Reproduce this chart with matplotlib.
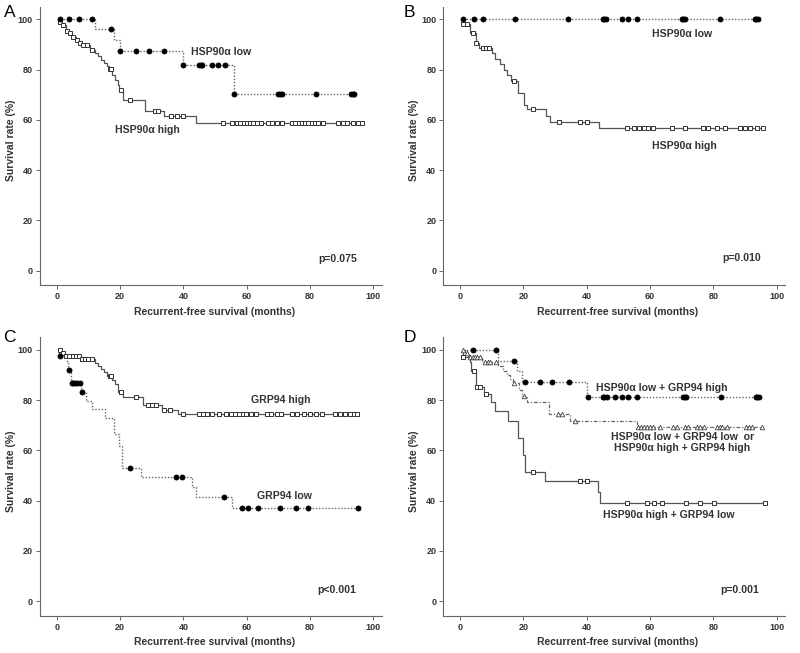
import numpy as np
import matplotlib
matplotlib.use("Agg")
import matplotlib.pyplot as plt

plt.rcParams["font.family"] = ["Liberation Sans", "DejaVu Sans"]

# ---- data ----
# each curve: start time, event times, survival (%) after each event, censor times
a_low_start = 1
a_low_t = [12, 18, 20, 40, 56]
a_low_s = [96.0, 91.7, 87.5, 81.8, 70.2]
a_low_cens = [1, 4, 7, 11, 17, 20, 25, 29, 34, 40, 45, 45.5, 46, 49, 51, 53,
              56, 70, 70.5, 71, 82, 93, 93.5, 94]

a_high_start = 0.5
a_high_t = [0.9, 1.8, 2.8, 3.8, 4.8, 6, 7, 8, 10.5, 12, 13, 14, 15, 16, 16.5,
            17.5, 18.5, 19.2, 19.8, 21, 28, 34, 44]
a_high_s = [98.8, 97.7, 95.5, 94.4, 92.8, 91.8, 90.4, 89.9, 87.8, 86.5, 85.2,
            83.9, 82.6, 81.4, 80.2, 78.0, 76.0, 74.0, 71.9, 67.9, 63.4, 61.7, 58.6]
a_high_cens = [1, 2, 3.2, 4.2, 5.2, 6.3, 7.4, 8.4, 9.5, 11, 16.8, 17.2, 20.2,
               23.1, 31, 32, 36, 38, 40, 52.6, 55.3, 57, 58, 59, 60, 61, 62,
               63.3, 64.5, 66.7, 68, 69.5, 71, 74.2, 75.3, 76.5, 77.5, 78.3,
               79.4, 80.5, 81.5, 82.5, 84.2, 88.8, 90.5, 91.6, 93.6, 95, 96.3]

b_low_start = 1
b_low_t = []
b_low_s = []
b_low_cens = [1, 4.4, 7.4, 17.3, 34.2, 45, 45.5, 46, 51, 53, 56, 70, 70.5, 71,
              82, 93, 93.5, 94]

b_high_start = 0.5
b_high_t = [0.9, 3.2, 5, 6, 10, 11, 12.5, 14, 15, 16, 18.3, 20.2, 21, 27.2,
            28.3, 44]
b_high_s = [98.1, 94.4, 90.5, 88.7, 86.5, 84.3, 82.1, 79.9, 77.7, 75.5, 70.6,
            66.0, 64.2, 61.5, 59.0, 56.7]
b_high_cens = [1, 2.2, 4.2, 5.2, 7.2, 8.2, 9.3, 17.2, 23.2, 31.4, 38, 40.2,
               52.6, 55, 56.5, 58, 59.5, 61, 66.8, 71, 76.7, 78.3, 81, 83.7,
               88.4, 90, 91.6, 93.7, 95.8]

c_high_start = 0.5
c_high_t = [1.5, 2.5, 7.5, 12, 13, 14, 15, 16, 17.5, 18.5, 19.5, 21, 27.3,
            33.3, 38.4]
c_high_s = [98.7, 97.4, 96.2, 94.9, 93.6, 92.3, 91.0, 89.4, 88.2, 86.6, 83.3,
            81.4, 78.1, 76.2, 74.4]
c_high_cens = [1, 2.1, 3, 4, 5, 6, 7, 8, 9, 10, 11, 16.8, 17.2, 20.3, 24.9,
               28.9, 30, 31.4, 33.9, 35.7, 39.9, 45, 46.2, 47.3, 49.1, 51.2,
               53.4, 55, 56.3, 57.5, 58.7, 59.9, 61.3, 62.8, 66.4, 67.5, 69.5,
               70.7, 74.2, 76, 78, 80.1, 82, 83.8, 88, 89.5, 91, 92.5, 94, 94.8]

c_low_start = 0.5
c_low_t = [0.8, 3.2, 3.7, 4.4, 7.7, 9.4, 11, 15.2, 18.1, 19.6, 20.7, 26.7,
           42.7, 44, 55.5]
c_low_s = [97.6, 95.0, 92.1, 86.7, 83.2, 79.7, 76.4, 73.0, 66.5, 61.8, 53.2,
           49.6, 45.5, 41.4, 36.9]
c_low_cens = [1, 3.9, 4.7, 5.3, 5.9, 6.5, 7.2, 8.1, 23, 37.7, 39.5, 52.9,
              58.6, 60.5, 63.5, 70.5, 75.4, 79.4, 95.1]

d1_start = 1
d1_t = [12, 17.9, 19.7, 40]
d1_s = [95.7, 91.4, 87.1, 81.2]
d1_cens = [4.2, 11.3, 17.2, 20.4, 25.3, 29.2, 34.3, 40.4, 45, 45.5, 46.4, 49,
           51.2, 53, 56, 70.5, 71, 71.5, 82.3, 93.4, 93.9, 94.4]

d2_start = 0.8
d2_t = [1.5, 2.6, 7, 12.1, 13.5, 14.8, 15.8, 16.8, 18.5, 19.5, 21, 28, 34.8, 56]
d2_s = [98.6, 97.2, 95.1, 93.4, 91.7, 90.0, 88.4, 86.7, 84.2, 81.7, 79.4,
        74.5, 71.7, 69.4]
d2_cens = [1, 2.1, 3.2, 4, 4.8, 5.5, 6.3, 7.9, 8.7, 9.5, 11.3, 17.2, 20.3,
           31.1, 32.2, 36.2, 56.1, 57, 58, 59, 60, 61, 63.2, 67.4, 68.4, 71.1,
           72.1, 74.8, 75.8, 76.9, 81.2, 82, 82.8, 84.4, 90.2, 91.2, 92.3, 95.4]

d3_start = 0.5
d3_t = [0.8, 3.2, 3.5, 5.0, 7.7, 9.7, 11.1, 15.1, 18.3, 20, 20.5, 26.9, 43.5,
        44.3]
d3_s = [97.2, 95.3, 91.4, 85.4, 82.4, 79.4, 75.5, 71.7, 65.1, 58.2, 51.6,
        47.9, 43.6, 38.9]
d3_cens = [1, 4.4, 5.3, 6.3, 8.1, 23.2, 38, 40.1, 52.7, 59.1, 61.2, 63.8,
           71.2, 75.9, 80.2, 96.2]

xticks = [0, 20, 40, 60, 80, 100]
yticks = [0, 20, 40, 60, 80, 100]

DARK = "#333333"
LINE = "#555555"

STYLES = {
    "low": dict(ls=(0, (1, 1.3)), lw=1.0, color="#666666",
                marker="o", mfc="black", mec="black", ms=3.7, mew=0.5),
    "high": dict(ls="-", lw=0.9, color=LINE,
                 marker="s", mfc="white", mec=DARK, ms=3.4, mew=0.7),
    "mid": dict(ls=(0, (3, 1.5, 1, 1.5)), lw=0.9, color="#666666",
                marker="^", mfc="white", mec="#444444", ms=3.3, mew=0.6),
}


def draw_km(ax, start, t, s, cens, kind):
    st = STYLES[kind]
    t = np.asarray(t, dtype=float)
    levels = np.concatenate([[100.0], np.asarray(s, dtype=float)])
    end = max(cens)
    xs = np.concatenate([[start], t, [end]])
    ys = np.concatenate([levels, [levels[-1]]])
    ax.step(xs, ys, where="post", ls=st["ls"], lw=st["lw"], color=st["color"],
            zorder=2)
    cy = levels[np.searchsorted(t, cens, side="right")]
    ax.plot(cens, cy, ls="none", marker=st["marker"], mfc=st["mfc"],
            mec=st["mec"], ms=st["ms"], mew=st["mew"], zorder=3)


def style_axes(ax):
    ax.set_xlim(-5.3, 102.7)
    ax.set_ylim(-5.7, 105)
    ax.set_xticks(xticks)
    ax.set_yticks(yticks)
    for side in ("top", "right"):
        ax.spines[side].set_visible(False)
    for side in ("left", "bottom"):
        ax.spines[side].set_color("#666666")
        ax.spines[side].set_linewidth(0.8)
    ax.tick_params(direction="out", length=3, width=0.7, color="#666666",
                   labelsize=6.5, labelcolor=DARK, pad=2)
    for lab in ax.get_xticklabels() + ax.get_yticklabels():
        lab.set_fontweight("bold")
    ax.text(0.51, -0.096, "Recurrent-free survival (months)",
            transform=ax.transAxes, ha="center", va="center",
            fontsize=7.5, fontweight="bold", color=DARK)
    ax.text(-0.085, 0.52, "Survival rate (%)", transform=ax.transAxes,
            rotation=90, ha="center", va="center",
            fontsize=7.5, fontweight="bold", color=DARK)


def note(ax, x, y, txt, ha="left"):
    ax.text(x, y, txt, ha=ha, va="center", fontsize=7.6, fontweight="bold",
            color=DARK)


fig = plt.figure(figsize=(8.0, 6.53), dpi=100)
fig.patch.set_facecolor("white")

W, H = 0.4276, 0.4262
axA = fig.add_axes([0.0499, 0.5636, W, H])
axB = fig.add_axes([0.554, 0.5636, W, H])
axC = fig.add_axes([0.0499, 0.0573, W, H])
axD = fig.add_axes([0.554, 0.0573, W, H])

# A
draw_km(axA, a_high_start, a_high_t, a_high_s, a_high_cens, "high")
draw_km(axA, a_low_start, a_low_t, a_low_s, a_low_cens, "low")
note(axA, 42.3, 87.1, "HSP90α low")
note(axA, 18.4, 56.0, "HSP90α high")
note(axA, 94.8, 4.7, "p=0.075", ha="right")

# B
draw_km(axB, b_high_start, b_high_t, b_high_s, b_high_cens, "high")
draw_km(axB, b_low_start, b_low_t, b_low_s, b_low_cens, "low")
note(axB, 60.5, 94.0, "HSP90α low")
note(axB, 60.7, 49.7, "HSP90α high")
note(axB, 95.0, 4.9, "p=0.010", ha="right")

# C
draw_km(axC, c_high_start, c_high_t, c_high_s, c_high_cens, "high")
draw_km(axC, c_low_start, c_low_t, c_low_s, c_low_cens, "low")
note(axC, 61.3, 80.1, "GRP94 high")
note(axC, 63.3, 42.0, "GRP94 low")
note(axC, 94.5, 4.5, "p<0.001", ha="right")

# D
draw_km(axD, d3_start, d3_t, d3_s, d3_cens, "high")
draw_km(axD, d2_start, d2_t, d2_s, d2_cens, "mid")
draw_km(axD, d1_start, d1_t, d1_s, d1_cens, "low")
note(axD, 43.0, 84.8, "HSP90α low + GRP94 high")
note(axD, 70.2, 65.3, "HSP90α low + GRP94 low  or", ha="center")
note(axD, 70.0, 60.9, "HSP90α high + GRP94 high", ha="center")
note(axD, 45.1, 34.3, "HSP90α high + GRP94 low")
note(axD, 94.5, 4.5, "p=0.001", ha="right")

for ax in (axA, axB, axC, axD):
    style_axes(ax)

# panel letters
for lx, ly, letter in [(10, 12.8, "A"), (409, 12.8, "B"),
                       (9, 337.5, "C"), (409.5, 337.5, "D")]:
    fig.text(lx / 800, 1 - ly / 653, letter, ha="center", va="center",
             fontsize=12.5, color="black")

fig.savefig("out.png", dpi=100, facecolor="white")
